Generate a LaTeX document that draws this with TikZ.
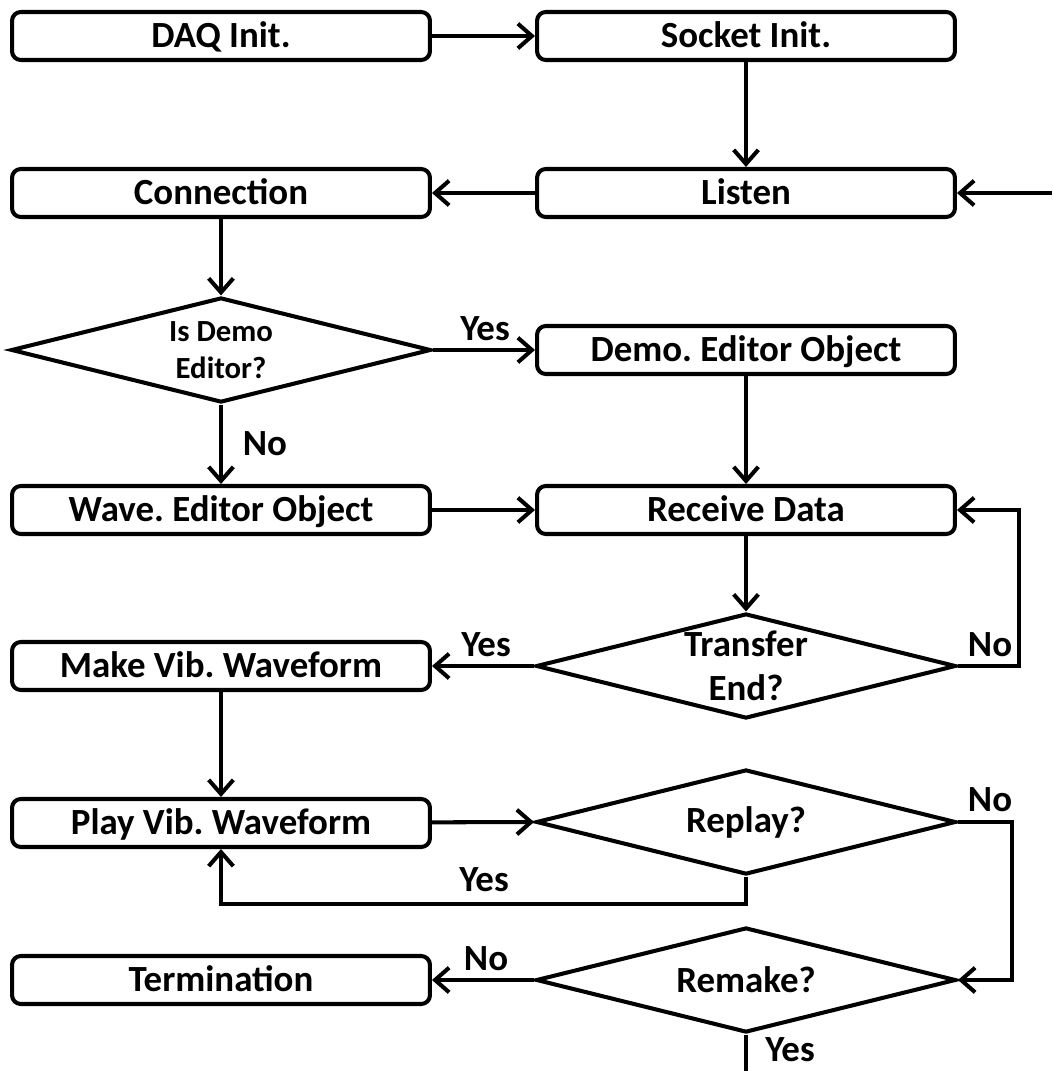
\documentclass[tikz,border=0pt]{standalone}
\usepackage{fontspec}
\setmainfont{Carlito}
\usepackage{tikz}
\usetikzlibrary{positioning, arrows.meta, shapes.geometric}

\begin{document}
\frenchspacing
\begin{tikzpicture}[x=0.02cm, y=-0.02cm,
    font=\fontsize{21}{25}\selectfont\bfseries,
    every path/.style={line width=2.3pt},
    box/.style={draw, rounded corners=5pt, minimum width=8.36cm, minimum height=0.96cm, inner sep=0pt, text height=13.5pt, text depth=0pt},
    decision/.style={draw, diamond, shape aspect=4, inner sep=0pt, minimum width=8.4cm, minimum height=2.1cm, align=center},
    flow/.style={-{Straight Barb[length=8pt, width=14pt, line width=2.3pt]}},
    lbl/.style={inner sep=0pt, text height=13.5pt, text depth=0pt}]
  % Page frame
  \useasboundingbox (0,0) rectangle (1052,1071);

  % Boxes, left column
  \node[box] (daq)  at (221,36)  {DAQ Init.};
  \node[box] (conn) at (221,193) {Connection};
  \node[box] (wave) at (221,510) {Wave. Editor Object};
  \node[box] (make) at (221,666) {Make Vib. Waveform};
  \node[box] (play) at (221,823) {Play Vib. Waveform};
  \node[box] (term) at (221,980) {Termination};
  % Boxes, right column
  \node[box] (socket) at (746,36)  {Socket Init.};
  \node[box] (listen) at (746,193) {Listen};
  \node[box] (demo)   at (746,350) {Demo. Editor Object};
  \node[box] (recv)   at (746,510) {Receive Data};

  % Decisions
  \node[decision, font=\fontsize{17.5}{21}\selectfont\bfseries] (isdemo) at (221,350) {Is Demo\\Editor?};
  \node[decision, font=\fontsize{21}{25}\selectfont\bfseries] (transfer) at (746,666) {Transfer\\End?};
  \node[decision] (replay) at (746,822) {Replay?};
  \node[decision] (remake) at (746,980) {Remake?};

  % Free ends
  \coordinate (back) at (1052,193);
  \coordinate (bot) at (746,1071);

  % Connectors
  \draw[flow] (daq) -- (socket);
  \draw[flow] (socket) -- (listen);
  \draw[flow] (back) -- (listen);
  \draw[flow] (listen) -- (conn);
  \draw[flow] (conn) -- (isdemo);
  \draw[flow] (isdemo.east) -- (demo.west);
  \draw[flow] (isdemo) -- (wave);
  \draw[flow] (demo) -- (recv);
  \draw[flow] (wave) -- (recv);
  \draw[flow] (recv) -- (transfer);
  \draw[flow] (transfer.east) -- ++(61,0) |- (recv.east);
  \draw[flow] (transfer.west) -- (make.east);
  \draw[flow] (make) -- (play);
  \draw[flow] (play) -- (replay.west);
  \draw[flow] (replay.south) -- ++(0,27) -| (play.south);
  \draw[flow] (replay.east) -- ++(54,0) |- (remake.east);
  \draw[flow] (remake.west) -- (term.east);
  \draw (remake.south) -- (bot);

  % Labels
  \node[lbl] (y1) at (485,329) {Yes};
  \node[lbl] (n1) at (265,444) {No};
  \node[lbl] (y2) at (486,645) {Yes};
  \node[lbl] (n2) at (990,645) {No};
  \node[lbl] (y3) at (484,880) {Yes};
  \node[lbl] (n3) at (990,800) {No};
  \node[lbl] (n4) at (486,959) {No};
  \node[lbl] (y4) at (790,1050) {Yes};
\end{tikzpicture}
\end{document}
